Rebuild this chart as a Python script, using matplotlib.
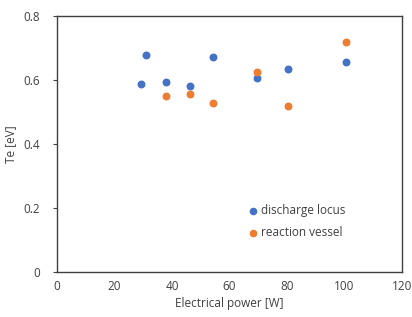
import matplotlib
matplotlib.use("Agg")
import matplotlib.pyplot as plt

plt.rcParams['font.family'] = ['Open Sans', 'DejaVu Sans']

power = [29.1, 31.1, 38.1, 46.4, 54.1, 69.4, 80.2, 100.4]
te_discharge = [0.588, 0.677, 0.592, 0.582, 0.672, 0.607, 0.635, 0.655]
power_vessel = [38.1, 46.4, 54.1, 69.4, 80.2, 100.4]
te_vessel = [0.551, 0.557, 0.527, 0.625, 0.519, 0.717]

xticks = [0, 20, 40, 60, 80, 100, 120]
yticks = [0, 0.2, 0.4, 0.6, 0.8]
yticklabels = ['0', '0.2', '0.4', '0.6', '0.8']

fig = plt.figure(figsize=(4.12, 3.17), dpi=100)
ax = fig.add_axes([0.138, 0.142, 0.838, 0.808])

ax.scatter(power, te_discharge, s=22, color='#4472C4', label='discharge locus', zorder=3)
ax.scatter(power_vessel, te_vessel, s=22, color='#ED7D31', label='reaction vessel', zorder=3)

ax.set_xlim(0, 120)
ax.set_ylim(0, 0.8)
ax.set_xticks(xticks)
ax.set_yticks(yticks)
ax.set_yticklabels(yticklabels)
ax.tick_params(axis='x', length=0, labelsize=8.5, colors='#404040', pad=6)
ax.tick_params(axis='y', length=3, width=0.8, labelsize=8.5, colors='#404040', pad=9)
for sp in ax.spines.values():
    sp.set_color('#404040')
    sp.set_linewidth(1.0)

ax.set_xlabel('Electrical power [W]', fontsize=8.5, color='#404040', labelpad=3)
ax.set_ylabel('Te [eV]', fontsize=8.5, color='#404040', labelpad=5)

leg = ax.legend(loc='upper left', bbox_to_anchor=(0.52, 0.305), frameon=False,
                fontsize=8.5, handletextpad=0.15, handlelength=1.0, labelspacing=0.75,
                markerscale=0.95)
for t in leg.get_texts():
    t.set_color('#404040')

fig.savefig('out.png', dpi=100)
